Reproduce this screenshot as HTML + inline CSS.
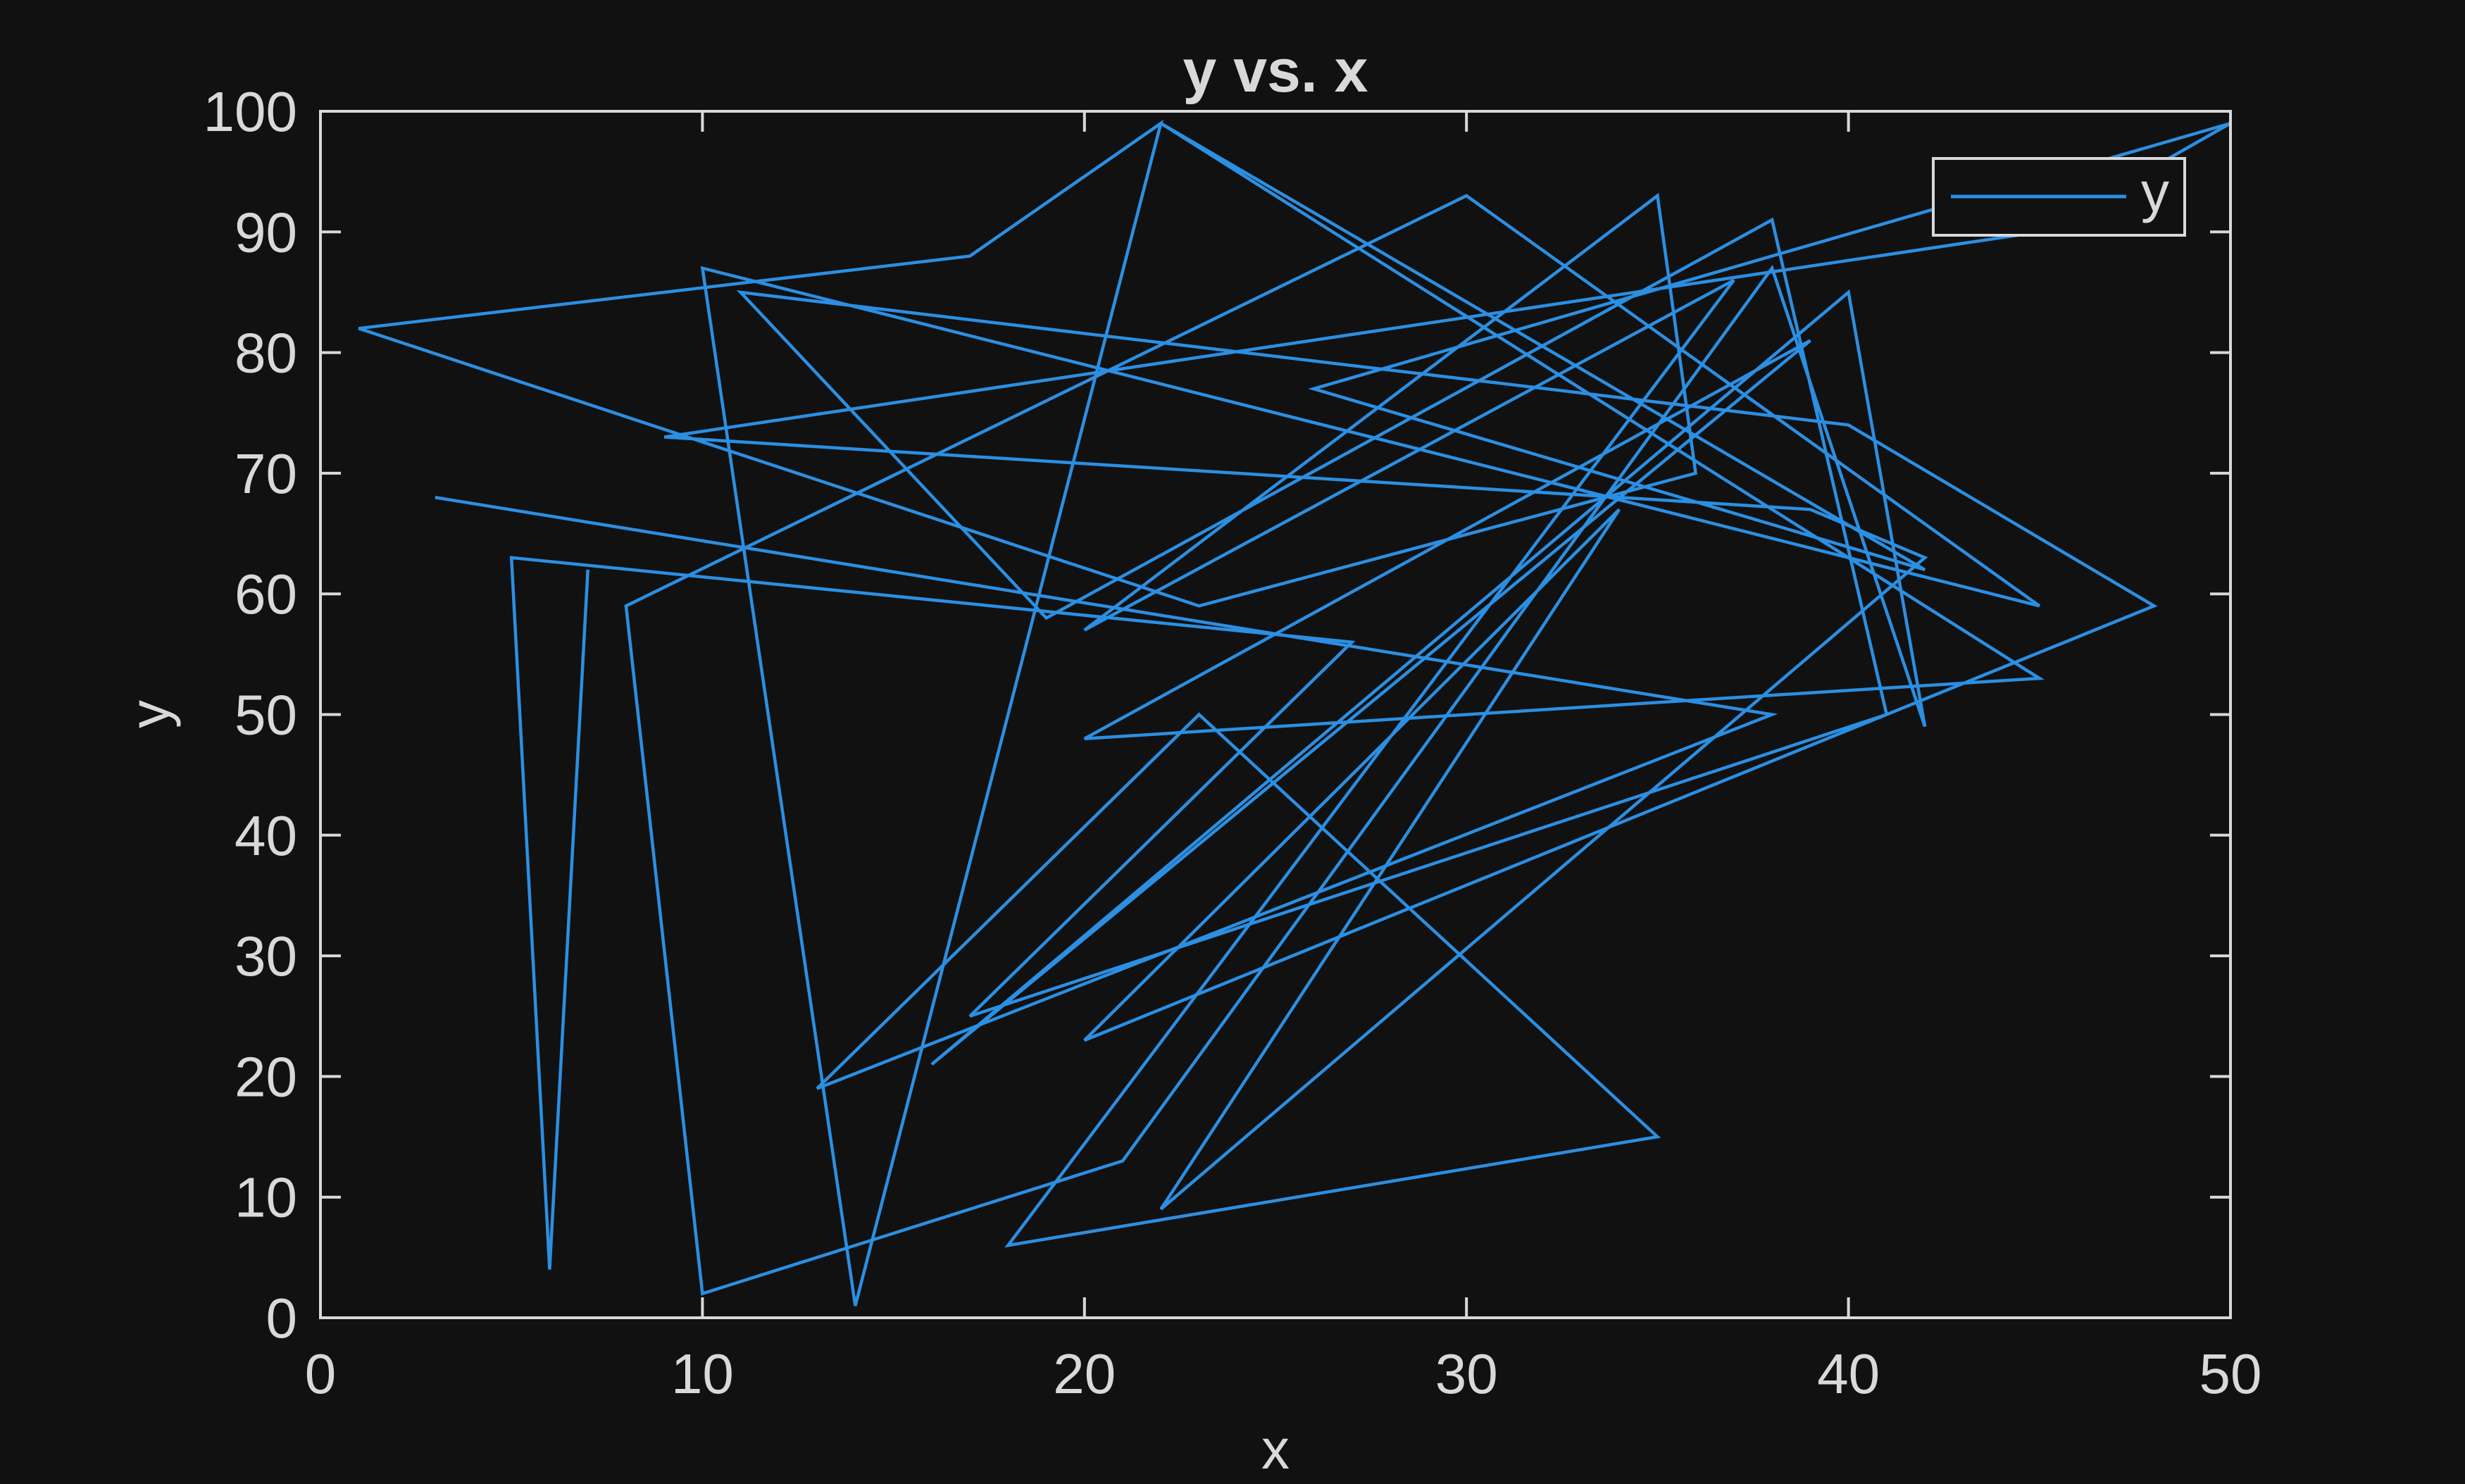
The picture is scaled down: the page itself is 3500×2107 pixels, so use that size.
<!DOCTYPE html>
<html><head><meta charset="utf-8"><style>
html,body{margin:0;padding:0;background:#111111;}
svg{display:block;}
text{font-family:"Liberation Sans",Arial,sans-serif;fill:#d9d9d9;}
</style></head><body>
<svg id="chart" xmlns="http://www.w3.org/2000/svg" width="3500" height="2107" viewBox="0 0 3500 2107">
<rect x="0" y="0" width="3500" height="2107" fill="#111111"/>
<text x="1811" y="130" font-size="86" font-weight="bold" text-anchor="middle">y vs. x</text>
<text x="1811" y="2085" font-size="80" text-anchor="middle">x</text>
<text x="0" y="0" font-size="80" text-anchor="middle" transform="translate(240,1014) rotate(-90)">y</text>
<g id="ticks"></g>
<g id="plot"></g>
<rect x="455" y="158" width="2712" height="1713" fill="none" stroke="#d9d9d9" stroke-width="4"/>
<g>
<rect x="2745" y="225" width="357" height="109" fill="#111111" stroke="#d9d9d9" stroke-width="4"/>
<line x1="2770" y1="279" x2="3019" y2="279" stroke="#2b8fe3" stroke-width="5"/>
<text x="3040" y="300" font-size="80">y</text>
</g>
</svg>
<script>
const xs = [3,38,13,23,35,18,37,20,35,36,23,1,17,22,14,10,45,30,8,10,21,38,42,40,16,39,20,45,22,42,26,50,45,9,39,42,22,34,20,48,40,11,19,38,41,17,27,5,6,7];
const ys = [68,50,19,50,15,6,86,57,93,70,59,82,88,99,1,87,59,93,59,2,13,87,49,85,21,81,48,53,99,62,77,99,90,73,67,63,9,67,23,59,74,85,58,91,50,25,56,63,4,62];
const xTicks = [0,10,20,30,40,50];
const yTicks = [0,10,20,30,40,50,60,70,80,90,100];

const L = 455, R = 3167, T = 158, B = 1871;
function sx(v){ return L + (v - 0) / 50 * (R - L); }
function sy(v){ return B - (v - 0) / 100 * (B - T); }
const NS = 'http://www.w3.org/2000/svg';
const tg = document.getElementById('ticks');
const pg = document.getElementById('plot');

xTicks.forEach(function(t){
  const x = sx(t);
  [[B, B-29],[T, T+29]].forEach(function(p){
    const ln = document.createElementNS(NS,'line');
    ln.setAttribute('x1',x); ln.setAttribute('x2',x);
    ln.setAttribute('y1',p[0]); ln.setAttribute('y2',p[1]);
    ln.setAttribute('stroke','#d9d9d9'); ln.setAttribute('stroke-width','4');
    
    
    tg.appendChild(ln);
  });
  const tx = document.createElementNS(NS,'text');
  tx.setAttribute('x',x); tx.setAttribute('y',1978);
  tx.setAttribute('font-size','80'); tx.setAttribute('text-anchor','middle');
  tx.textContent = t;
  
  
  tg.appendChild(tx);
});
yTicks.forEach(function(t){
  const y = sy(t);
  [[L, L+29],[R, R-29]].forEach(function(p){
    const ln = document.createElementNS(NS,'line');
    ln.setAttribute('x1',p[0]); ln.setAttribute('x2',p[1]);
    ln.setAttribute('y1',y); ln.setAttribute('y2',y);
    ln.setAttribute('stroke','#d9d9d9'); ln.setAttribute('stroke-width','4');
    
    
    tg.appendChild(ln);
  });
  const tx = document.createElementNS(NS,'text');
  tx.setAttribute('x',422); tx.setAttribute('y',y+28);
  tx.setAttribute('font-size','80'); tx.setAttribute('text-anchor','end');
  tx.textContent = t;
  
  
  tg.appendChild(tx);
});

let d = '';
for (let i = 0; i < xs.length; i++) {
  d += (i === 0 ? 'M' : 'L') + sx(xs[i]).toFixed(1) + ' ' + sy(ys[i]).toFixed(1) + ' ';
}
const path = document.createElementNS(NS,'path');
path.setAttribute('d', d);
path.setAttribute('fill','none');
path.setAttribute('stroke','#2b8fe3');
path.setAttribute('stroke-width','4.5');
path.setAttribute('stroke-linejoin','miter');


pg.appendChild(path);
</script>
</body></html>
